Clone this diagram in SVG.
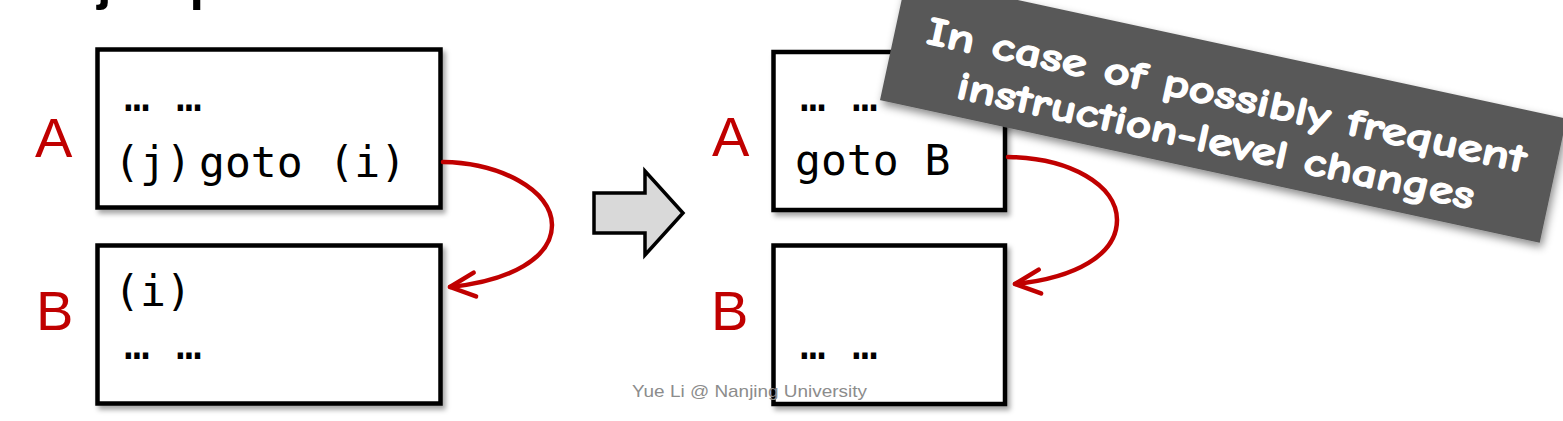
<svg xmlns="http://www.w3.org/2000/svg" width="1563" height="421" viewBox="0 0 1563 421">
  <style>
    .box { fill: #ffffff; stroke: #000000; stroke-width: 4.5; filter: url(#shadow); }
    .code { font-family: "DejaVu Sans Mono", "Liberation Mono", monospace; font-size: 43px; fill: #000000; }
    .lbl { font-family: "Liberation Sans", Arial, sans-serif; font-size: 56px; fill: #c00000; }
    .conn { fill: none; stroke: #c00000; stroke-width: 4.5; stroke-linecap: round; marker-end: url(#chev); }
    .banner-text { font-family: "Comic Sans MS", "Comic Neue", "DejaVu Sans", sans-serif; font-size: 40px; font-weight: bold; fill: #ffffff; stroke: #ffffff; stroke-width: 1.2; }
  </style>
  <defs>
    <filter id="shadow" x="-10%" y="-10%" width="130%" height="130%">
      <feDropShadow dx="3" dy="4" stdDeviation="2.5" flood-color="#000000" flood-opacity="0.35"/>
    </filter>
    <filter id="bshadow" x="-10%" y="-20%" width="130%" height="150%">
      <feDropShadow dx="3" dy="4" stdDeviation="4" flood-color="#000000" flood-opacity="0.45"/>
    </filter>
    <marker id="chev" markerUnits="userSpaceOnUse" markerWidth="40" markerHeight="40" viewBox="-30 -20 40 40" refX="0" refY="0" orient="auto">
      <path d="M-25,-12 L0,0 L-25,12" fill="none" stroke="#c00000" stroke-width="4.5" stroke-linecap="round" stroke-linejoin="round"/>
    </marker>
  </defs>

  <rect width="1563" height="421" fill="#ffffff"/>

  <text x="97" y="-1" font-family="Liberation Sans, Arial, sans-serif" font-size="52" font-weight="bold" fill="#000000">jumps to basic blocks</text>

  <g id="left-A">
    <rect class="box" x="97.5" y="49.5" width="343" height="158"/>
    <text class="code" x="124" y="111">…</text>
    <text class="code" x="176" y="111">…</text>
    <text class="code" x="114" y="177">(j)</text>
    <text class="code" x="199" y="177">goto (i)</text>
    <text class="lbl" x="35" y="157">A</text>
  </g>

  <g id="left-B">
    <rect class="box" x="97.5" y="245.5" width="343" height="158"/>
    <text class="code" x="114" y="306">(i)</text>
    <text class="code" x="124" y="359">…</text>
    <text class="code" x="176" y="359">…</text>
    <text class="lbl" x="36" y="330">B</text>
  </g>

  <g id="transform-arrow">
    <polygon points="594,193 645,193 645,171 683,213 645,255 645,233 594,233" fill="#d9d9d9" stroke="#000000" stroke-width="3.5" stroke-linejoin="miter"/>
  </g>

  <g id="right-A">
    <rect class="box" x="773.5" y="52" width="231.5" height="158"/>
    <text class="code" x="800" y="111">…</text>
    <text class="code" x="852" y="111">…</text>
    <text class="code" x="795" y="175">goto B</text>
    <text class="lbl" x="712" y="156">A</text>
  </g>

  <g id="right-B">
    <rect class="box" x="773.5" y="245.5" width="231.5" height="158.5"/>
    <text class="code" x="800" y="359">…</text>
    <text class="code" x="852" y="359">…</text>
    <text class="lbl" x="711" y="330">B</text>
  </g>

  <g id="connectors">
    <path class="conn" d="M443,162 C500,163 552,190 552,225 C552,258 510,281 450,287"/>
    <path class="conn" d="M1008,157 C1070,158 1117,185 1117,220 C1117,255 1075,278 1015,284"/>
  </g>

  <text x="632" y="397" font-family="Liberation Sans, Arial, sans-serif" font-size="17" fill="#8c8c8c" textLength="235" lengthAdjust="spacingAndGlyphs">Yue Li @ Nanjing University</text>

  <g id="banner" transform="translate(906.8,-24) rotate(12.2)">
    <rect x="0" y="0" width="675" height="127" fill="#595959" filter="url(#bshadow)"/>
    <text class="banner-text" x="338" y="62" text-anchor="middle" textLength="612" lengthAdjust="spacingAndGlyphs">In case of possibly frequent</text>
    <text class="banner-text" x="337" y="109" text-anchor="middle" textLength="528" lengthAdjust="spacingAndGlyphs">instruction-level changes</text>
  </g>
</svg>
